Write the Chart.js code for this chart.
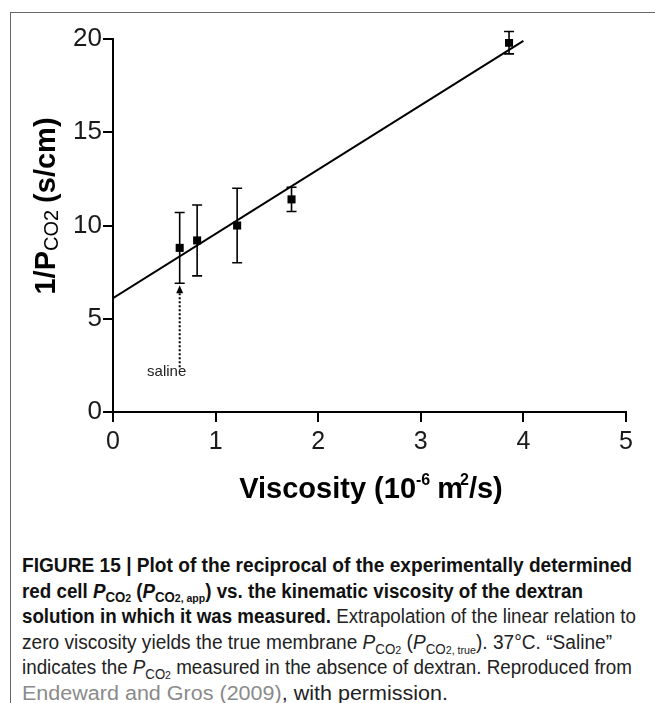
<!DOCTYPE html>
<html>
<head>
<meta charset="utf-8">
<script src="https://cdn.jsdelivr.net/npm/chart.js@4.4.0/dist/chart.umd.min.js"></script>
<style>
  body { margin: 0; background: #fff; }
  #page { position: relative; width: 655px; height: 703px; overflow: hidden; }
  #frame { position: absolute; left: 10px; top: 12px; right: 0; bottom: 0;
           border-left: 1.5px solid #666; border-top: 1.5px solid #666; }
  #plot { position: absolute; left: 0; top: 0; }
  #caption { position: absolute; left: 22px; top: 553px;
             font-family: "Liberation Sans", Arial, sans-serif;
             font-size: 20px; color: #222; }
  #caption .ln { height: 25.6px; line-height: 25.6px; white-space: nowrap;
                 transform-origin: 0 50%; width: max-content; }
  #caption b { color: #111; }
  #caption sub { font-size: 0.7em; vertical-align: -0.35em; line-height: 0; }
  #caption sub sub { font-size: 0.8em; vertical-align: 0; }
  .ref { color: #8a8a8a; }
</style>
</head>
<body>
<div id="page">
  <div id="frame"></div>
  <canvas id="plot" width="655" height="540"></canvas>
  <div id="caption">
    <div class="ln" data-w="610"><b>FIGURE 15 | Plot of the reciprocal of the experimentally determined</b></div>
    <div class="ln" data-w="561"><b>red cell <i>P</i><sub>CO<sub>2</sub></sub> (<i>P</i><sub>CO<sub>2, app</sub></sub>) vs. the kinematic viscosity of the dextran</b></div>
    <div class="ln" data-w="614"><b>solution in which it was measured.</b> Extrapolation of the linear relation to</div>
    <div class="ln" data-w="590">zero viscosity yields the true membrane <i>P</i><sub>CO<sub>2</sub></sub> (<i>P</i><sub>CO<sub>2, true</sub></sub>). 37°C. “Saline”</div>
    <div class="ln" data-w="610">indicates the <i>P</i><sub>CO<sub>2</sub></sub> measured in the absence of dextran. Reproduced from</div>
    <div class="ln" data-w="426"><span class="ref">Endeward and Gros (2009)</span>, with permission.</div>
  </div>
</div>
<script>
// squeeze each caption line to its column width
document.querySelectorAll('#caption .ln').forEach(el => {
  const w = el.getBoundingClientRect().width;
  el.style.transform = 'scaleX(' + (Number(el.dataset.w) / w) + ')';
});

// measured points: viscosity vs. 1/P_CO2, with error bars
const viscosity = [0.65, 0.82, 1.21, 1.74, 3.86];
const recipP = [8.8, 9.2, 10.0, 11.4, 19.8];
const errBar = [1.9, 1.9, 2.0, 0.65, 0.6];

// linear regression line
const fitX = [0, 4.0];
const fitY = [6.1, 19.9];

// saline marker (dotted arrow)
const salineX = 0.65;
const salineFrom = 2.4;
const salineTo = 6.8;

const xTicks = [0, 1, 2, 3, 4, 5];
const yTicks = [0, 5, 10, 15, 20];

const chartFont = '"Liberation Sans", Arial, sans-serif';

const errorBars = {
  id: 'errorBars',
  afterDatasetsDraw(chart) {
    const ctx = chart.ctx;
    const xs = chart.scales.x, ys = chart.scales.y;
    ctx.save();
    ctx.strokeStyle = '#000';
    ctx.lineWidth = 1.6;
    viscosity.forEach((v, i) => {
      const px = xs.getPixelForValue(v);
      const top = ys.getPixelForValue(recipP[i] + errBar[i]);
      const bot = ys.getPixelForValue(recipP[i] - errBar[i]);
      ctx.beginPath();
      ctx.moveTo(px, top); ctx.lineTo(px, bot);
      ctx.moveTo(px - 5, top); ctx.lineTo(px + 5, top);
      ctx.moveTo(px - 5, bot); ctx.lineTo(px + 5, bot);
      ctx.stroke();
    });

    // dotted arrow pointing to the saline point
    const sx = xs.getPixelForValue(salineX);
    const y0 = ys.getPixelForValue(salineFrom);
    const y1 = ys.getPixelForValue(salineTo);
    ctx.setLineDash([2, 2]);
    ctx.lineWidth = 2;
    ctx.beginPath();
    ctx.moveTo(sx, y0); ctx.lineTo(sx, y1 + 6);
    ctx.stroke();
    ctx.setLineDash([]);
    ctx.fillStyle = '#000';
    ctx.beginPath();
    ctx.moveTo(sx, y1);
    ctx.lineTo(sx - 3.5, y1 + 8);
    ctx.lineTo(sx + 3.5, y1 + 8);
    ctx.closePath();
    ctx.fill();

    ctx.font = '15px ' + chartFont;
    ctx.fillStyle = '#222';
    ctx.textAlign = 'center';
    ctx.textBaseline = 'alphabetic';
    ctx.fillText('saline', sx - 13, y0 + 9);
    ctx.restore();
  }
};

// axis titles with sub/superscripts
const axisTitles = {
  id: 'axisTitles',
  afterDraw(chart) {
    const ctx = chart.ctx;
    const drawRuns = (runs, cx, cy) => {
      let total = 0;
      runs.forEach(r => { ctx.font = r.font; r.w = ctx.measureText(r.text).width; total += r.w + (r.gap || 0); });
      let x = cx - total / 2;
      runs.forEach(r => {
        ctx.font = r.font;
        ctx.fillText(r.text, x, cy + (r.dy || 0));
        x += r.w + (r.gap || 0);
      });
    };
    ctx.save();
    ctx.fillStyle = '#000';
    ctx.textAlign = 'left';
    ctx.textBaseline = 'middle';

    ctx.save();
    ctx.translate(47, 206);
    ctx.rotate(-Math.PI / 2);
    drawRuns([
      { text: '1/P', font: 'bold 29px ' + chartFont },
      { text: 'CO2', font: '20px ' + chartFont, dy: 5, gap: 7 },
      { text: '(s/cm)', font: 'bold 29px ' + chartFont }
    ], 0, 0);
    ctx.restore();

    drawRuns([
      { text: 'Viscosity (10', font: 'bold 29px ' + chartFont },
      { text: '-6', font: 'bold 16px ' + chartFont, dy: -9, gap: 7 },
      { text: 'm', font: 'bold 29px ' + chartFont, gap: -3 },
      { text: '2', font: 'bold 16px ' + chartFont, dy: -9 },
      { text: '/s)', font: 'bold 29px ' + chartFont }
    ], 371, 490);
    ctx.restore();
  }
};

new Chart(document.getElementById('plot'), {
  type: 'scatter',
  data: {
    datasets: [
      {
        type: 'line',
        data: fitX.map((x, i) => ({ x: x, y: fitY[i] })),
        borderColor: '#000',
        borderWidth: 2,
        pointRadius: 0,
        fill: false
      },
      {
        data: viscosity.map((x, i) => ({ x: x, y: recipP[i] })),
        pointStyle: 'rect',
        pointRadius: 5.7,
        backgroundColor: '#000',
        borderColor: '#000',
        borderWidth: 0
      }
    ]
  },
  options: {
    responsive: false,
    animation: false,
    layout: { padding: { left: 0, right: 29, top: 39, bottom: 68 } },
    plugins: { legend: { display: false }, tooltip: { enabled: false } },
    scales: {
      x: {
        type: 'linear',
        min: 0, max: 5,
        afterFit: s => { s.height = 60; },
        afterBuildTicks: s => { s.ticks = xTicks.map(v => ({ value: v })); },
        ticks: { color: '#1a1a1a', padding: 5, font: { family: chartFont, size: 25 } },
        grid: { drawOnChartArea: false, drawTicks: true, tickLength: 10, color: '#000', lineWidth: 2 },
        border: { color: '#000', width: 2 }
      },
      y: {
        type: 'linear',
        min: 0, max: 20,
        afterFit: s => { s.width = 113; },
        afterBuildTicks: s => { s.ticks = yTicks.map(v => ({ value: v })); },
        ticks: { color: '#1a1a1a', padding: 1, font: { family: chartFont, size: 26 } },
        grid: { drawOnChartArea: false, drawTicks: true, tickLength: 10, color: '#000', lineWidth: 2 },
        border: { color: '#000', width: 2 }
      }
    }
  },
  plugins: [errorBars, axisTitles]
});
</script>
</body>
</html>
